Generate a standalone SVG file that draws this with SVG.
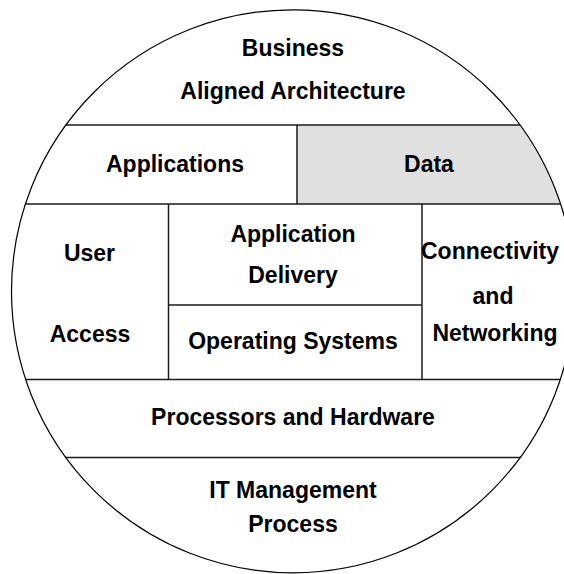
<svg xmlns="http://www.w3.org/2000/svg" width="564" height="574" viewBox="0 0 564 574">
<defs>
<clipPath id="clip"><circle cx="293" cy="291.3" r="281.5"/></clipPath>
<style>
text{font-family:"Liberation Sans",Arial,Helvetica,sans-serif;font-weight:bold;font-size:23px;text-anchor:middle;fill:#000}
.ln{stroke:#1a1a1a;stroke-width:1.5;fill:none}
.edge{stroke:#000;stroke-width:1.2;fill:none}
</style>
</defs>
<rect width="564" height="574" fill="#fff"/>
<g id="layout" clip-path="url(#clip)">
  <rect id="data-fill" x="297" y="125" width="300" height="79" fill="#e0e0e0"/>
  <line class="ln" x1="0" y1="125" x2="564" y2="125"/>
  <line class="ln" x1="0" y1="204" x2="564" y2="204"/>
  <line class="ln" x1="297" y1="125" x2="297" y2="204"/>
  <line class="ln" x1="168.5" y1="204" x2="168.5" y2="380"/>
  <line class="ln" x1="422" y1="204" x2="422" y2="379.5"/>
  <line class="ln" x1="168.5" y1="305" x2="422" y2="305"/>
  <line class="ln" x1="0" y1="379.5" x2="564" y2="379.5"/>
  <line class="ln" x1="0" y1="457.5" x2="564" y2="457.5"/>
</g>
<circle class="edge" cx="293" cy="291.3" r="281.5"/>
<g id="business">
  <text x="293" y="56">Business</text>
  <text x="293" y="99">Aligned Architecture</text>
</g>
<g id="applications"><text x="175" y="172">Applications</text></g>
<g id="data"><text x="429" y="172">Data</text></g>
<g id="user-access">
  <text x="89.5" y="261">User</text>
  <text x="90" y="342">Access</text>
</g>
<g id="application-delivery">
  <text x="293" y="241.5">Application</text>
  <text x="293" y="282.5">Delivery</text>
</g>
<g id="operating-systems"><text x="293" y="348.5">Operating Systems</text></g>
<g id="connectivity">
  <text x="490" y="258.5">Connectivity</text>
  <text x="493" y="304">and</text>
  <text x="495" y="341">Networking</text>
</g>
<g id="processors"><text x="293" y="425">Processors and Hardware</text></g>
<g id="it-management">
  <text x="293" y="498">IT Management</text>
  <text x="293" y="532">Process</text>
</g>
</svg>
